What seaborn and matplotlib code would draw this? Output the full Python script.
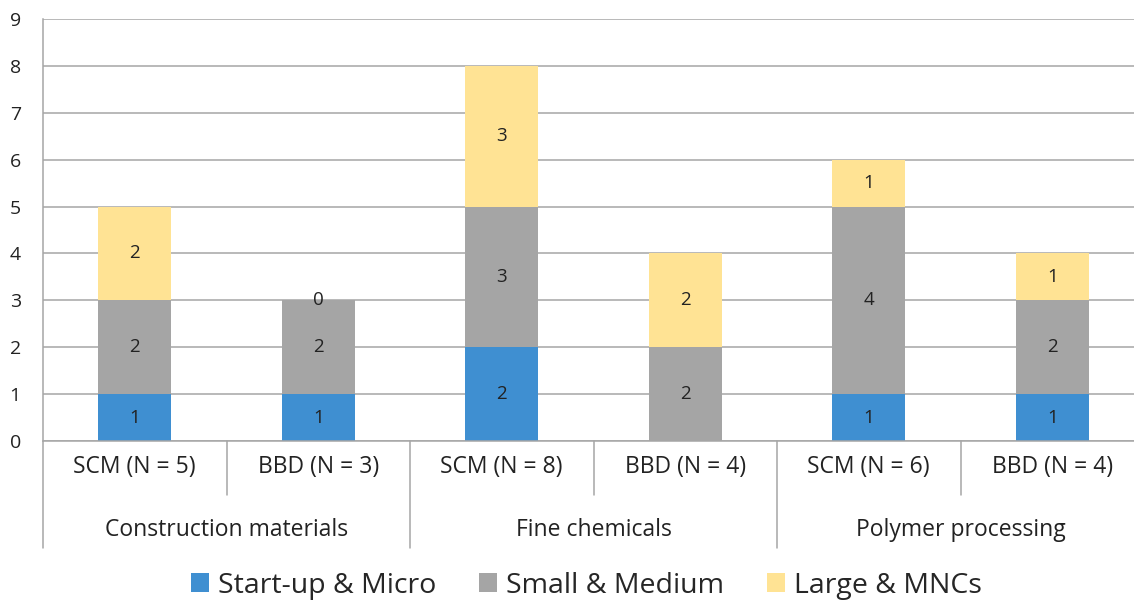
import numpy as np
import pandas as pd
import matplotlib
matplotlib.use('Agg')
import matplotlib.pyplot as plt
import matplotlib.transforms as mtransforms
from matplotlib.patches import Patch
import seaborn as sns

# data
groups = ['Construction materials', 'Fine chemicals', 'Polymer processing']
subs = ['SCM (N = 5)', 'BBD (N = 3)', 'SCM (N = 8)', 'BBD (N = 4)', 'SCM (N = 6)', 'BBD (N = 4)']
startup = [1, 1, 2, 0, 1, 1]
small = [2, 2, 3, 2, 4, 2]
large = [2, 0, 3, 2, 1, 1]

series = ['Start-up & Micro', 'Small & Medium', 'Large & MNCs']
colors = ['#3F8FD1', '#A5A5A5', '#FFE394']
grid_col = '#A6A6A6'

sns.set_style('white')
plt.rcParams['font.family'] = ['Open Sans', 'DejaVu Sans']

df = pd.DataFrame({'cat': range(len(subs)), 'startup': startup, 'small': small, 'large': large})
df['c1'] = df['startup']
df['c2'] = df['startup'] + df['small']
df['c3'] = df['c2'] + df['large']

fig = plt.figure(figsize=(11.34, 6.0), dpi=100)
ax = fig.add_axes([43 / 1134, 159 / 600, 1101 / 1134, 422 / 600])

# stacked bars: draw cumulative totals from top layer down
for col, c in zip(['c3', 'c2', 'c1'], colors[::-1]):
    sns.barplot(data=df, x='cat', y=col, color=c, width=0.4, ax=ax,
                saturation=1, native_scale=True, zorder=3, linewidth=0)

ax.set_xlim(-0.5, 5.5)
ax.set_ylim(0, 9)
ax.set_yticks(range(10))
ax.yaxis.grid(True, color=grid_col, linewidth=1.1, zorder=0)
ax.set_axisbelow(True)
for s in ['top', 'right', 'bottom']:
    ax.spines[s].set_visible(False)
ax.spines['left'].set_color(grid_col)
ax.spines['left'].set_linewidth(1.1)
ax.tick_params(axis='y', length=6, color=grid_col, width=1.1, labelsize=14,
               labelcolor='#222222', pad=10)
ax.set_xticks([])
ax.set_xlabel('')
ax.set_ylabel('')

# segment labels (the empty start-up bar for Fine chemicals BBD carries no label)
for i in range(len(subs)):
    bottom = 0
    for v in [startup[i], small[i], large[i]]:
        if not (v == 0 and bottom == 0):
            ax.text(i, bottom + v / 2, str(v), ha='center', va='center',
                    fontsize=13.5, color='#222222', zorder=5)
        bottom += v

# two-level category axis
tr = mtransforms.blended_transform_factory(ax.transData, ax.transAxes)
ax.plot([-0.5, 5.5], [0, 0], transform=tr, color=grid_col, lw=1.1, clip_on=False, zorder=4)
ax.plot([-0.5, -0.5], [0, -0.2536], transform=tr, color=grid_col, lw=1.1, clip_on=False)
for i, lab in enumerate(subs):
    ax.text(i, -0.062, lab, transform=tr, ha='center', va='center', fontsize=16.5, color='#222222')
for k in range(1, 6):
    end = -0.2536 if k % 2 == 0 else -0.128
    ax.plot([k - 0.5, k - 0.5], [0, end], transform=tr, color=grid_col, lw=1.1, clip_on=False)
for j, g in enumerate(groups):
    ax.text(2 * j + 0.5, -0.211, g, transform=tr, ha='center', va='center', fontsize=16.5, color='#222222')

handles = [Patch(facecolor=c, edgecolor='none') for c in colors]
fig.legend(handles, series, loc='center', bbox_to_anchor=(0.517, 0.024), ncol=3,
           frameon=False, fontsize=20.5, handlelength=0.65, handleheight=0.65,
           handletextpad=0.3, columnspacing=1.5)

fig.savefig('out.png', dpi=100)
